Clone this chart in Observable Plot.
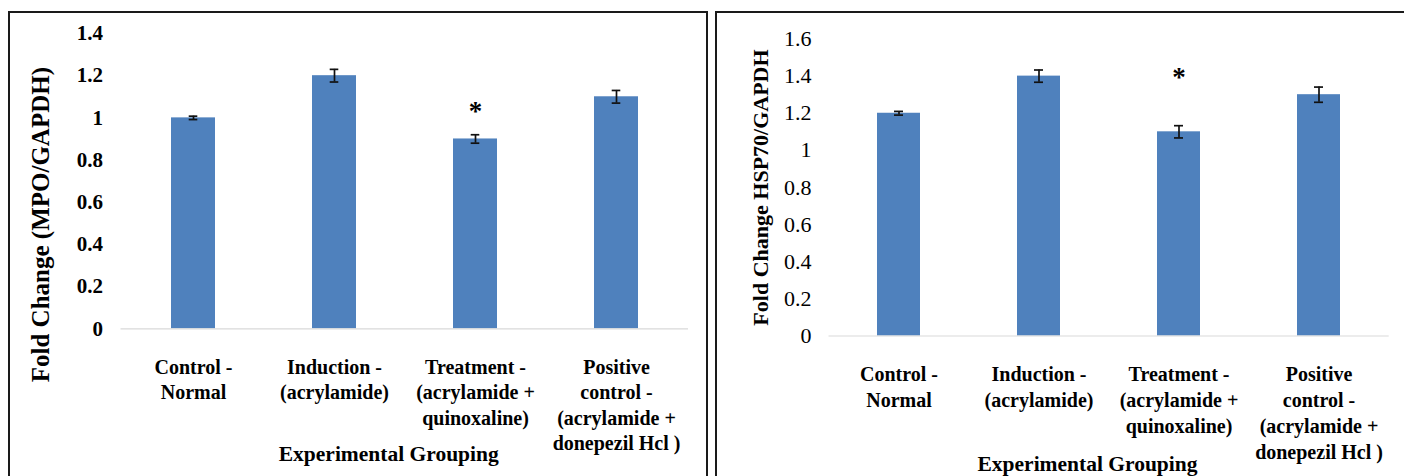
<!DOCTYPE html>
<html>
<head>
<meta charset="utf-8">
<script src="https://cdn.jsdelivr.net/npm/d3@7"></script>
<script src="https://cdn.jsdelivr.net/npm/@observablehq/plot@0.6"></script>
<style>
html, body { margin: 0; padding: 0; background: #fff; }
body { width: 1404px; height: 476px; overflow: hidden; position: relative; font-family: "Liberation Serif", "Times New Roman", serif; }
.frame { position: absolute; border: 2px solid #1a1a1a; border-bottom: none; box-sizing: border-box; }
.panel { position: absolute; }
.panel svg { overflow: visible; }
</style>
</head>
<body>
<div class="frame" style="left:8px;top:11px;width:700px;height:480px"></div>
<div class="frame" style="left:715px;top:11px;width:700px;height:480px;border-right:none"></div>
<div id="p1" class="panel" style="left:8px;top:12px"></div>
<div id="p2" class="panel" style="left:716px;top:12px"></div>
<script>
// ---- data ----
const groups = [
  "Control -\nNormal",
  "Induction -\n(acrylamide)",
  "Treatment -\n(acrylamide +\nquinoxaline)",
  "Positive\ncontrol -\n(acrylamide +\ndonepezil Hcl )"
];
const mpoValues = [1.0, 1.2, 0.9, 1.1];
const mpoErrors = [0.008, 0.03, 0.02, 0.03];
const hspValues = [1.2, 1.4, 1.1, 1.3];
const hspErrors = [0.01, 0.033, 0.033, 0.041];
const mpoTicks = [0, 0.2, 0.4, 0.6, 0.8, 1, 1.2, 1.4];
const hspTicks = [0, 0.2, 0.4, 0.6, 0.8, 1, 1.2, 1.4, 1.6];
const sigGroup = groups[2];
const mpoSigY = 1.05;
const hspSigY = 1.413;
const mpoTitle = "Fold Change (MPO/GAPDH)";
const hspTitle = "Fold Change HSP70/GAPDH";
const xTitle = "Experimental Grouping";

const barColor = "#4f81bd";
const font = "Liberation Serif, Times New Roman, serif";

function panel(cfg) {
  const rows = groups.map((g, i) => ({g, v: cfg.values[i], e: cfg.errors[i]}));
  return Plot.plot({
    width: cfg.width,
    height: 470,
    marginLeft: cfg.ml,
    marginRight: cfg.mr,
    marginTop: cfg.mt,
    marginBottom: 470 - cfg.yBottom,
    style: {fontFamily: font, background: "transparent", color: "#000"},
    x: {domain: groups, paddingInner: cfg.pi, paddingOuter: cfg.pi / 2, axis: null},
    y: {domain: cfg.domain, axis: null},
    marks: [
      Plot.barY(rows, {x: "g", y: "v", fill: barColor}),
      Plot.ruleY([0], {stroke: "#d9d9d9", strokeWidth: 1.2}),
      Plot.ruleX(rows, {x: "g", y1: d => d.v - d.e, y2: d => d.v + d.e, stroke: "#111", strokeWidth: 1.7}),
      Plot.tickY(rows, {x: "g", y: d => d.v + d.e, stroke: "#111", strokeWidth: 1.7, insetLeft: cfg.capInset, insetRight: cfg.capInset}),
      Plot.tickY(rows, {x: "g", y: d => d.v - d.e, stroke: "#111", strokeWidth: 1.7, insetLeft: cfg.capInset, insetRight: cfg.capInset}),
      Plot.axisY({ticks: cfg.ticks, tickSize: 0, tickPadding: cfg.tickPad, tickFormat: d => String(d),
        fontSize: cfg.tickFont, fontWeight: cfg.tickWeight, label: null}),
      Plot.text([sigGroup], {x: d => d, y: () => cfg.sigY, text: () => "*", fontSize: 27, fontWeight: "bold", dy: 4}),
      Plot.text(groups, {x: d => d, frameAnchor: "bottom", lineAnchor: "top", dy: cfg.xPad,
        text: d => d, fontSize: 20, fontWeight: "bold", lineHeight: cfg.lh}),
      Plot.text([cfg.title], {frameAnchor: "left", textAnchor: "middle", lineAnchor: "middle", rotate: -90, dx: cfg.tdx, dy: cfg.tdy,
        text: d => d, fontSize: cfg.titleFont, fontWeight: "bold"}),
      Plot.text([xTitle], {frameAnchor: "bottom", lineAnchor: "middle", dx: cfg.xdx, dy: cfg.xdy,
        text: d => d, fontSize: 21.5, fontWeight: "bold"})
    ]
  });
}

document.getElementById("p1").append(panel({
  width: 700, ml: 112.5, mr: 20, mt: 21, yBottom: 316.3,
  pi: 0.686, capInset: 17.7, domain: [0, 1.4], ticks: mpoTicks,
  values: mpoValues, errors: mpoErrors, sigY: mpoSigY,
  tickPad: 18, tickFont: 21, tickWeight: "bold",
  xPad: 26.7, lh: 1.275,
  title: mpoTitle, titleFont: 25, tdx: -80.5, tdy: 43.5,
  xdx: -16, xdy: 125.7
}));

document.getElementById("p2").append(panel({
  width: 688, ml: 112.5, mr: 15.3, mt: 26.5, yBottom: 323.5,
  pi: 0.69, capInset: 17, domain: [0, 1.6], ticks: hspTicks,
  values: hspValues, errors: hspErrors, sigY: hspSigY,
  tickPad: 17.5, tickFont: 22, tickWeight: "normal",
  xPad: 26.5, lh: 1.3,
  title: hspTitle, titleFont: 22, tdx: -68.5, tdy: 0,
  xdx: -21.6, xdy: 128.5
}));
</script>
</body>
</html>
